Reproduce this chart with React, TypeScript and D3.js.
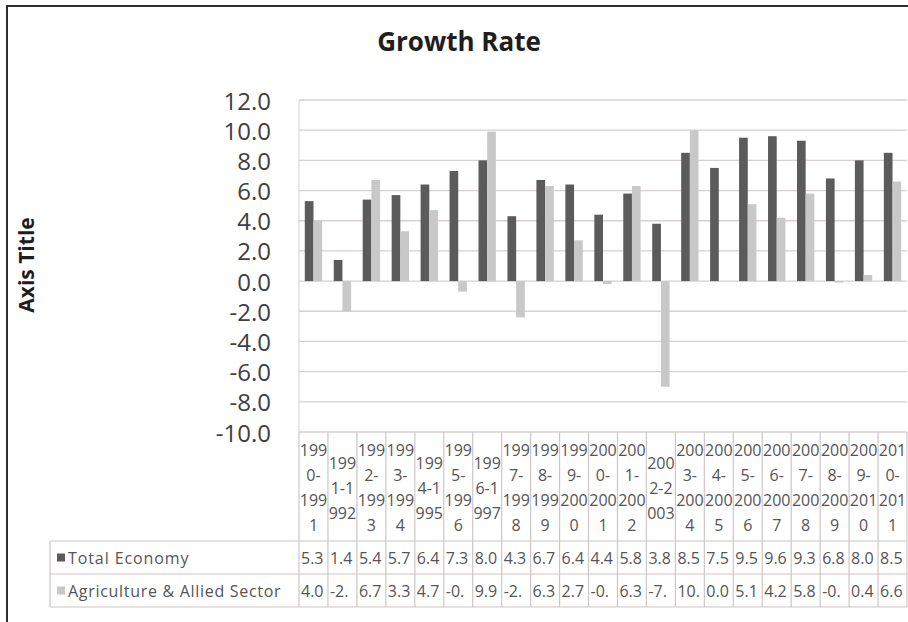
import React from 'react';
import * as d3 from 'd3';

// categories (fiscal years) and how the table header wraps them
const categories = [
  '1990-1991', '1991-1992', '1992-1993', '1993-1994', '1994-1995', '1995-1996', '1996-1997',
  '1997-1998', '1998-1999', '1999-2000', '2000-2001', '2001-2002', '2002-2003', '2003-2004',
  '2004-2005', '2005-2006', '2006-2007', '2007-2008', '2008-2009', '2009-2010', '2010-2011',
];
const categoryLines = [
  ['199', '0-', '199', '1'], ['199', '1-1', '992'], ['199', '2-', '199', '3'], ['199', '3-', '199', '4'],
  ['199', '4-1', '995'], ['199', '5-', '199', '6'], ['199', '6-1', '997'], ['199', '7-', '199', '8'],
  ['199', '8-', '199', '9'], ['199', '9-', '200', '0'], ['200', '0-', '200', '1'], ['200', '1-', '200', '2'],
  ['200', '2-2', '003'], ['200', '3-', '200', '4'], ['200', '4-', '200', '5'], ['200', '5-', '200', '6'],
  ['200', '6-', '200', '7'], ['200', '7-', '200', '8'], ['200', '8-', '200', '9'], ['200', '9-', '201', '0'],
  ['201', '0-', '201', '1'],
];

const seriesNames = ['Total Economy', 'Agriculture & Allied Sector'];
const totalEconomy = [5.3, 1.4, 5.4, 5.7, 6.4, 7.3, 8.0, 4.3, 6.7, 6.4, 4.4, 5.8, 3.8, 8.5, 7.5, 9.5, 9.6, 9.3, 6.8, 8.0, 8.5];
const agriculture = [4.0, -2.0, 6.7, 3.3, 4.7, -0.7, 9.9, -2.4, 6.3, 2.7, -0.2, 6.3, -7.0, 10.0, 0.0, 5.1, 4.2, 5.8, -0.1, 0.4, 6.6];
const seriesColors = ['#5b5b5b', '#c8c8c8'];

const yTicks = [-10, -8, -6, -4, -2, 0, 2, 4, 6, 8, 10, 12];

const W = 908, H = 622;
const plot = { left: 299, right: 907, top: 100, bottom: 432 };
const rowLines = [541, 574, 607];
const FONT = "'Open Sans', 'Liberation Sans', sans-serif";

const fmt = d3.formatLocale({ decimal: '.', thousands: ',', grouping: [3], currency: ['', ''], minus: '-' }).format('.1f');

export default function App() {
  const values = [totalEconomy, agriculture];

  const x = d3.scaleBand<string>().domain(categories).range([plot.left, plot.right]).padding(0);
  const xs = d3.scaleBand<string>().domain(seriesNames).range([0, x.bandwidth()])
    .paddingInner(0).paddingOuter(0.667);
  const y = d3.scaleLinear().domain([-10, 12]).range([plot.bottom, plot.top]);

  const gridColor = '#d8cfcf';
  const tableColor = '#cdc6c6';

  return (
    <svg width={W} height={H} style={{ position: 'absolute', left: 0, top: 0, display: 'block' }}
      fontFamily={FONT}>
      <rect x={0} y={0} width={W} height={H} fill="#fff" />
      {/* outer frame */}
      <rect x={7} y={6} width={W + 20} height={H + 20} fill="none" stroke="#2e2e2e" strokeWidth={2} />

      <text x={459} y={51} textAnchor="middle" fontSize={26} fontWeight="bold" fill="#1e1e1e">Growth Rate</text>

      <text transform="translate(26,265) rotate(-90)" textAnchor="middle" dominantBaseline="central"
        fontSize={21} fontWeight="bold" fill="#1e1e1e">Axis Title</text>

      {/* gridlines */}
      {yTicks.map(t => (
        <line key={t} x1={plot.left} x2={plot.right} y1={y(t)} y2={y(t)} stroke={gridColor} strokeWidth={1.3} />
      ))}
      <line x1={plot.left} x2={plot.left} y1={plot.top} y2={plot.bottom} stroke={gridColor} strokeWidth={1} />

      {/* y tick labels */}
      {yTicks.map(t => (
        <text key={t} x={271} y={y(t)} textAnchor="end" dominantBaseline="central" fontSize={24} fill="#404040">
          {fmt(t)}
        </text>
      ))}

      {/* bars */}
      {seriesNames.map((s, si) => (
        <g key={s} fill={seriesColors[si]}>
          {categories.map((c, i) => {
            const v = values[si][i];
            return (
              <rect key={c} x={(x(c) ?? 0) + (xs(s) ?? 0)} width={xs.bandwidth()}
                y={Math.min(y(v), y(0))} height={Math.abs(y(v) - y(0))} />
            );
          })}
        </g>
      ))}

      {/* data table */}
      <g stroke={tableColor} strokeWidth={1.2}>
        {rowLines.map(r => <line key={r} x1={50} x2={plot.right} y1={r} y2={r} />)}
        <line x1={50} x2={50} y1={rowLines[0]} y2={rowLines[2]} />
        {d3.range(categories.length + 1).map(i => {
          const xx = plot.left + i * x.step();
          return <line key={i} x1={xx} x2={xx} y1={plot.bottom} y2={rowLines[2]} />;
        })}
      </g>

      {/* header labels */}
      {categories.map((c, i) => {
        const lines = categoryLines[i];
        const cx = (x(c) ?? 0) + x.bandwidth() / 2;
        const mid = (plot.bottom + rowLines[0]) / 2 + 1;
        return (
          <text key={c} textAnchor="middle" fontSize={16} fill="#555">
            {lines.map((l, li) => (
              <tspan key={li} x={cx} y={mid + (li - (lines.length - 1) / 2) * 25} dominantBaseline="central">{l}</tspan>
            ))}
          </text>
        );
      })}

      {/* row labels with legend keys */}
      {seriesNames.map((s, si) => {
        const cy = (rowLines[si] + rowLines[si + 1]) / 2;
        return (
          <g key={s}>
            <rect x={57} y={cy - 4} width={8} height={8} fill={seriesColors[si]} />
            <text x={68} y={cy} dominantBaseline="central" fontSize={16} letterSpacing={si === 1 ? 0.7 : 0.9}
              fill="#555">{s}</text>
            {categories.map((c, i) => (
              <text key={c} x={(x(c) ?? 0) + 2} y={cy} dominantBaseline="central" fontSize={16} fill="#555">
                {fmt(values[si][i]).slice(0, 3)}
              </text>
            ))}
          </g>
        );
      })}
    </svg>
  );
}
